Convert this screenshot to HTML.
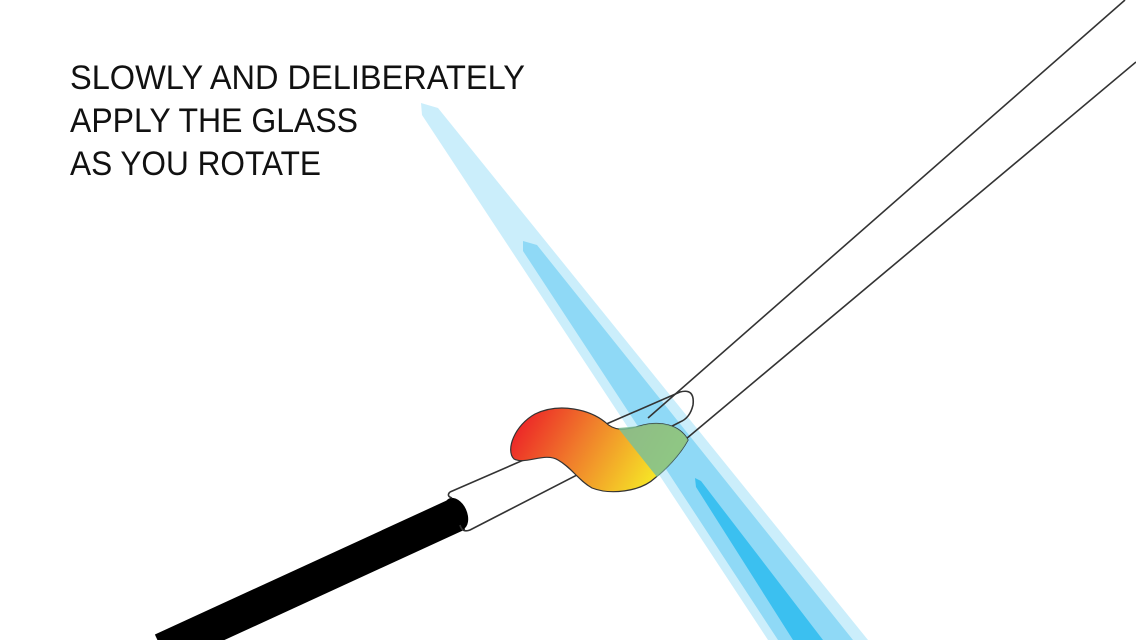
<!DOCTYPE html>
<html><head><meta charset="utf-8"><style>
html,body{margin:0;padding:0;background:#fff;width:1136px;height:640px;overflow:hidden}
svg{display:block}
</style></head><body>
<svg width="1136" height="640" viewBox="0 0 1136 640">
<defs>
<linearGradient id="g" x1="520" y1="415" x2="650" y2="490" gradientUnits="userSpaceOnUse">
<stop offset="0" stop-color="#ec2227"/><stop offset="0.45" stop-color="#f07e2b"/><stop offset="1" stop-color="#f6e826"/>
</linearGradient>
</defs>
<g>
<polygon fill="#cbeefb" points="421,103 438,108 868,640 768,640 422,115"/>
<polygon fill="#8fd9f6" points="523,241 537,245 853,640 778,640 523,251"/>
<polygon fill="#3bc0f0" points="695,478 701,481 823,640 793,640 696,487"/>
</g>
<line x1="162" y1="650" x2="458" y2="514" stroke="#000" stroke-width="34"/>
<ellipse cx="456" cy="514" rx="11" ry="17" transform="rotate(-24 456 514)" fill="#000"/>
<path d="M450,492 L680,392 Q695,388 693,405 Q690,418 680,422 L470,530 Q462,533 460,525" fill="none" stroke="#333" stroke-width="1.6"/>
<path d="M450,492 Q446,496 452,498" fill="none" stroke="#333" stroke-width="1.6"/>
<line x1="648" y1="418" x2="1125" y2="0" stroke="#333" stroke-width="1.6"/>
<line x1="680" y1="444" x2="1136" y2="62" stroke="#333" stroke-width="1.6"/>
<path fill="url(#g)" stroke="#333" stroke-width="1.2"
d="M514,459 C505,450 515,425 535,414 C560,402 590,410 605,422 C615,432 625,430 640,426 C660,420 680,425 688,440 C680,455 665,470 655,478 C640,492 610,495 592,488 C578,480 572,468 558,460 C545,452 525,465 514,459 Z"/>
<path fill="#7dbf95" opacity="0.85" d="M618,428 L640,426 C660,420 680,425 688,440 C680,455 665,470 657,477 Z"/>
<g font-family="'Liberation Sans', sans-serif" font-size="34" fill="#111">
<text x="70" y="89" textLength="455" lengthAdjust="spacingAndGlyphs">SLOWLY AND DELIBERATELY</text>
<text x="70" y="132" textLength="288" lengthAdjust="spacingAndGlyphs">APPLY THE GLASS</text>
<text x="70" y="175" textLength="251" lengthAdjust="spacingAndGlyphs">AS YOU ROTATE</text>
</g>
</svg>
</body></html>
